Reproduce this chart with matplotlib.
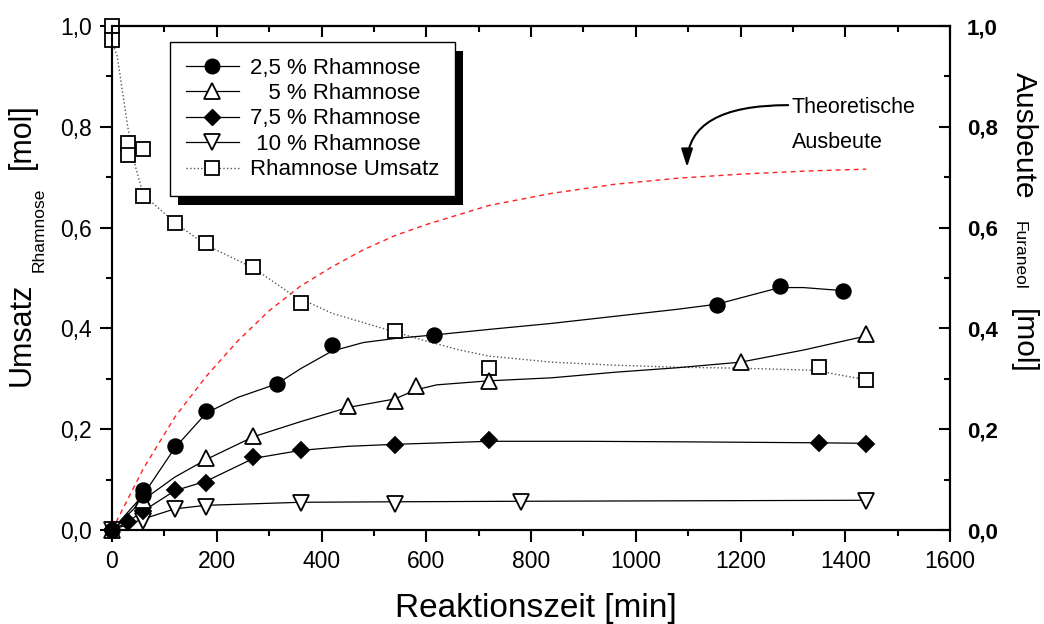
import matplotlib
matplotlib.use('Agg')
import matplotlib.pyplot as plt
from matplotlib.lines import Line2D
from matplotlib.patches import Rectangle
from matplotlib.ticker import MultipleLocator

plt.rcParams['font.family'] = ['Liberation Sans', 'DejaVu Sans']

t_25 = [0, 60, 60, 120, 180, 315, 420, 615, 1155, 1275, 1395]
y_25 = [0.0, 0.079, 0.069, 0.166, 0.237, 0.29, 0.367, 0.387, 0.446, 0.484, 0.475]
t_5 = [0, 60, 180, 270, 450, 540, 580, 720, 1200, 1440]
y_5 = [0.0, 0.06, 0.143, 0.187, 0.246, 0.256, 0.286, 0.296, 0.333, 0.389]
t_75 = [0, 30, 60, 120, 180, 270, 360, 540, 720, 1350, 1440]
y_75 = [0.0, 0.016, 0.038, 0.079, 0.093, 0.144, 0.159, 0.169, 0.179, 0.172, 0.171]
t_10 = [0, 60, 120, 180, 360, 540, 780, 1440]
y_10 = [0.0, 0.018, 0.041, 0.046, 0.053, 0.052, 0.055, 0.057]
t_rh = [0, 0, 30, 30, 60, 60, 120, 180, 270, 360, 540, 720, 1350, 1440]
y_rh = [1.0, 0.972, 0.768, 0.744, 0.756, 0.663, 0.609, 0.569, 0.522, 0.45, 0.395, 0.321, 0.323, 0.298]

# smooth fit curves
ft_25 = [0, 60, 120, 180, 240, 315, 360, 420, 480, 540, 615, 720, 840, 960, 1080, 1155, 1220, 1275, 1320, 1395]
fy_25 = [0, 0.07, 0.163, 0.232, 0.263, 0.29, 0.32, 0.355, 0.372, 0.38, 0.387, 0.398, 0.41, 0.424, 0.438, 0.448, 0.466, 0.481, 0.481, 0.475]
ft_5 = [0, 60, 120, 180, 270, 360, 450, 540, 580, 620, 720, 840, 960, 1080, 1200, 1320, 1440]
fy_5 = [0, 0.06, 0.105, 0.14, 0.185, 0.215, 0.243, 0.26, 0.278, 0.288, 0.296, 0.302, 0.313, 0.322, 0.333, 0.357, 0.385]
ft_75 = [0, 30, 60, 120, 180, 270, 360, 450, 540, 720, 900, 1080, 1350, 1440]
fy_75 = [0, 0.016, 0.038, 0.078, 0.097, 0.142, 0.158, 0.166, 0.17, 0.176, 0.176, 0.175, 0.173, 0.172]
ft_10 = [0, 60, 120, 180, 360, 540, 780, 1440]
fy_10 = [0, 0.022, 0.042, 0.049, 0.055, 0.056, 0.057, 0.059]
ft_rh = [0, 10, 30, 45, 60, 120, 180, 270, 345, 420, 540, 600, 660, 720, 840, 960, 1080, 1200, 1340, 1440]
fy_rh = [0.97, 0.94, 0.8, 0.72, 0.665, 0.61, 0.565, 0.52, 0.466, 0.43, 0.393, 0.375, 0.358, 0.345, 0.333, 0.327, 0.323, 0.321, 0.317, 0.298]

# theoretical yield curve
t_theo = [0, 60, 120, 180, 240, 300, 360, 420, 480, 540, 600, 720, 840, 960, 1080, 1200, 1320, 1440]
y_theo = [0, 0.122, 0.224, 0.305, 0.375, 0.435, 0.484, 0.522, 0.556, 0.584, 0.606, 0.644, 0.668, 0.686, 0.698, 0.706, 0.712, 0.716]

x_ticks = [0, 200, 400, 600, 800, 1000, 1200, 1400, 1600]
x_tick_labels = ['0', '200', '400', '600', '800', '1000', '1200', '1400', '1600']
y_ticks = [0.0, 0.2, 0.4, 0.6, 0.8, 1.0]
y_tick_labels = ['0,0', '0,2', '0,4', '0,6', '0,8', '1,0']
legend_labels = ['2,5 % Rhamnose', '   5 % Rhamnose', '7,5 % Rhamnose', ' 10 % Rhamnose', 'Rhamnose Umsatz']

fig = plt.figure(figsize=(10.44, 6.24), dpi=100)
ax = fig.add_axes([112 / 1044, 94 / 624, 838 / 1044, 504 / 624])

ax.plot(t_theo, y_theo, color='#ff2020', lw=1, dashes=(3.5, 3), zorder=2)
ax.plot(ft_rh, fy_rh, color='#555555', lw=1, ls=':', zorder=2)
for ft, fy in [(ft_25, fy_25), (ft_5, fy_5), (ft_75, fy_75), (ft_10, fy_10)]:
    ax.plot(ft, fy, color='black', lw=0.9, zorder=2)

mk = dict(ls='none', mec='black', mew=1.3, clip_on=False, zorder=4)
ax.plot(t_rh, y_rh, marker='s', ms=9.5, mfc='white', **mk)
ax.plot(t_10, y_10, marker='v', ms=11, mfc='white', **mk)
ax.plot(t_75, y_75, marker='D', ms=8, mfc='black', **mk)
ax.plot(t_5, y_5, marker='^', ms=11, mfc='white', **mk)
ax.plot(t_25, y_25, marker='o', ms=10.5, mfc='black', **mk)

ax.set_xlim(0, 1600)
ax.set_ylim(0, 1)
ax.set_xticks(x_ticks)
ax.set_xticklabels(x_tick_labels, fontsize=16.5)
ax.set_yticks(y_ticks)
ax.set_yticklabels(y_tick_labels, fontsize=16.5)
ax.xaxis.set_minor_locator(MultipleLocator(100))
ax.yaxis.set_minor_locator(MultipleLocator(0.1))
ax.tick_params(which='major', direction='out', length=8.5, width=1.5, pad=6)
ax.tick_params(which='minor', direction='out', length=4.3, width=1.5)
ax.tick_params(right=False, which='both')
ax.tick_params(axis='y', pad=6)

top = ax.secondary_xaxis('top')
top.set_xticks(x_ticks)
top.xaxis.set_minor_locator(MultipleLocator(100))
top.tick_params(which='major', direction='in', length=8, width=1.5, labeltop=False)
top.tick_params(which='minor', direction='in', length=4.5, width=1.5)
top.spines['top'].set_linewidth(1.5)

ax2 = ax.twinx()
ax2.set_ylim(0, 1)
ax2.set_yticks(y_ticks)
ax2.set_yticklabels(y_tick_labels, fontsize=16, fontweight='bold')
ax2.yaxis.set_minor_locator(MultipleLocator(0.1))
ax2.tick_params(which='major', direction='in', length=7.7, width=1.5, pad=12)
ax2.tick_params(which='minor', direction='in', length=4, width=1.5)
for a in (ax, ax2):
    for s in a.spines.values():
        s.set_linewidth(1.5)

# axis labels
fig.text(536 / 1044, 1 - 609 / 624, 'Reaktionszeit [min]', fontsize=24, ha='center', va='center')
fig.text(22 / 1044, 1 - 334 / 624, 'Umsatz', fontsize=22, rotation=90, ha='center', va='center')
fig.text(39 / 1044, 1 - 230 / 624, 'Rhamnose', fontsize=12.5, rotation=90, ha='center', va='center')
fig.text(22 / 1044, 1 - 136 / 624, '[mol]', fontsize=22, rotation=90, ha='center', va='center')
fig.text(1024 / 1044, 1 - 135 / 624, 'Ausbeute', fontsize=21.5, rotation=-90, ha='center', va='center')
fig.text(1019 / 1044, 1 - 255 / 624, 'Furaneol', fontsize=12.5, rotation=-90, ha='center', va='center')
fig.text(1023 / 1044, 1 - 341 / 624, '[mol]', fontsize=21.5, rotation=-90, ha='center', va='center')

# annotation
ax.text(1298, 0.827, 'Theoretische', fontsize=15.5, va='baseline')
ax.text(1298, 0.758, 'Ausbeute', fontsize=15.5, va='baseline')
ax.annotate('', xy=(1098, 0.72), xytext=(1291, 0.843),
            arrowprops=dict(arrowstyle='-|>,head_length=1.1,head_width=0.35', mutation_scale=10,
                            color='black', lw=1.5, shrinkA=0, shrinkB=0,
                            connectionstyle='angle3,angleA=0,angleB=90'))

# legend
handles = [
    Line2D([], [], color='black', lw=0.9, marker='o', ms=10.5, mfc='black', mec='black'),
    Line2D([], [], color='black', lw=0.9, marker='^', ms=11, mfc='white', mec='black', mew=1.3),
    Line2D([], [], color='black', lw=0.9, marker='D', ms=8, mfc='black', mec='black'),
    Line2D([], [], color='black', lw=0.9, marker='v', ms=11, mfc='white', mec='black', mew=1.3),
    Line2D([], [], color='#555555', lw=1, ls=':', marker='s', ms=9.5, mfc='white', mec='black', mew=1.3),
]
leg = ax.legend(handles, legend_labels, loc='upper left', bbox_to_anchor=(170 / 1044, 1 - 42 / 624),
                bbox_transform=fig.transFigure, borderaxespad=0, fontsize=16, numpoints=1,
                handlelength=2.4, handletextpad=0.5, labelspacing=0.2, borderpad=0.7,
                fancybox=False, framealpha=1, edgecolor='black')
leg.get_frame().set_linewidth(1)
leg.set_zorder(6)

fig.canvas.draw()
bb = leg.get_frame().get_window_extent().transformed(fig.transFigure.inverted())
shadow = Rectangle((bb.x0 + 8 / 1044, bb.y0 - 9 / 624), bb.width, bb.height, transform=fig.transFigure,
                   facecolor='black', edgecolor='none', zorder=5.5, clip_on=False)
ax.add_artist(shadow)

fig.savefig('out.png', dpi=100)
